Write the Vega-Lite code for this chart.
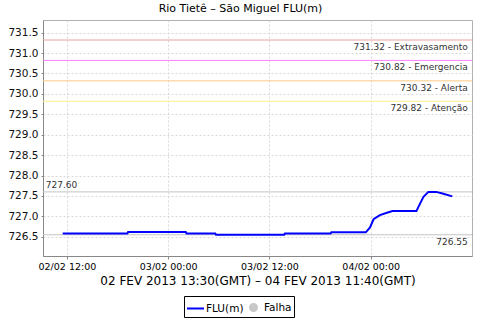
{
  "$schema": "https://vega.github.io/schema/vega-lite/v6.json",
  "width": 429,
  "height": 236,
  "autosize": {"type": "none"},
  "padding": {"left": 43, "top": 20, "right": 8, "bottom": 64},
  "background": "white",
  "title": {"text": "Rio Tietê – São Miguel FLU(m)", "font": "DejaVu Sans", "fontSize": 11, "fontWeight": "normal", "color": "#000000", "anchor": "middle", "dx": -17, "offset": 6},
  "config": {
    "view": {"stroke": "#b0b0b0"},
    "text": {"font": "DejaVu Sans"},
    "axis": {"labelOverlap": false},
    "axisY": {"labelOverlap": false},
    "axisQuantitative": {"labelOverlap": false}
  },
  "datasets": {
    "series": [
      {"t": "2013-02-02T11:30:00Z", "v": 726.58},
      {"t": "2013-02-02T19:10:00Z", "v": 726.58},
      {"t": "2013-02-02T19:15:00Z", "v": 726.62},
      {"t": "2013-02-03T02:05:00Z", "v": 726.62},
      {"t": "2013-02-03T02:10:00Z", "v": 726.58},
      {"t": "2013-02-03T05:35:00Z", "v": 726.58},
      {"t": "2013-02-03T05:40:00Z", "v": 726.55},
      {"t": "2013-02-03T13:45:00Z", "v": 726.55},
      {"t": "2013-02-03T13:50:00Z", "v": 726.58},
      {"t": "2013-02-03T19:15:00Z", "v": 726.58},
      {"t": "2013-02-03T19:20:00Z", "v": 726.61},
      {"t": "2013-02-03T23:25:00Z", "v": 726.61},
      {"t": "2013-02-03T23:55:00Z", "v": 726.73},
      {"t": "2013-02-04T00:20:00Z", "v": 726.93},
      {"t": "2013-02-04T01:05:00Z", "v": 727.03},
      {"t": "2013-02-04T01:55:00Z", "v": 727.09},
      {"t": "2013-02-04T02:35:00Z", "v": 727.13},
      {"t": "2013-02-04T05:25:00Z", "v": 727.13},
      {"t": "2013-02-04T05:40:00Z", "v": 727.24},
      {"t": "2013-02-04T06:15:00Z", "v": 727.48},
      {"t": "2013-02-04T06:50:00Z", "v": 727.6},
      {"t": "2013-02-04T07:45:00Z", "v": 727.6},
      {"t": "2013-02-04T08:30:00Z", "v": 727.56},
      {"t": "2013-02-04T09:40:00Z", "v": 727.49}
    ],
    "lines": [
      {"value": 731.32, "kind": "Extravasamento", "label": "731.32 - Extravasamento"},
      {"value": 730.82, "kind": "Emergencia", "label": "730.82 - Emergencia"},
      {"value": 730.32, "kind": "Alerta", "label": "730.32 - Alerta"},
      {"value": 729.82, "kind": "Atenção", "label": "729.82 - Atenção"},
      {"value": 727.6, "kind": "max", "label": "727.60"},
      {"value": 726.55, "kind": "min", "label": "726.55"}
    ]
  },
  "encoding": {
    "y": {"type": "quantitative",
      "scale": {"domain": [726.03, 731.81], "zero": false, "nice": false},
      "axis": {
        "title": null,
        "tickCount": 12,
        "format": ".1f", "labelOverlap": false,
        "labelFont": "DejaVu Sans", "labelFontSize": 10.5, "labelColor": "#111111",
        "labelPadding": 3, "tickSize": 2, "tickColor": "#888888", "domainColor": "#888888",
        "grid": true, "gridDash": [2, 2], "gridColor": "#d8d8d8"
      }}
  },
  "layer": [
    {
      "data": {"name": "lines"},
      "mark": {"type": "rule", "strokeWidth": 1},
      "encoding": {
        "y": {"field": "value", "type": "quantitative"},
        "stroke": {"field": "kind", "type": "nominal", "legend": null,
          "scale": {"domain": ["Extravasamento", "Emergencia", "Alerta", "Atenção", "max", "min"],
                    "range": ["#f2a0a0", "#ff80ff", "#ffc880", "#fff08a", "#c4c4c4", "#c4c4c4"]}}
      }
    },
    {
      "data": {"name": "lines"},
      "transform": [{"filter": "datum.kind !== 'max'"}],
      "mark": {"type": "text", "align": "right", "baseline": "top", "dy": 3, "fontSize": 9, "color": "#333333"},
      "encoding": {
        "x": {"datum": {"year": 2013, "month": 2, "date": 4, "hours": 11, "minutes": 30, "utc": true}, "type": "temporal"},
        "y": {"field": "value", "type": "quantitative"},
        "text": {"field": "label"}
      }
    },
    {
      "data": {"name": "lines"},
      "transform": [{"filter": "datum.kind === 'max'"}],
      "mark": {"type": "text", "align": "left", "baseline": "alphabetic", "dy": -4, "fontSize": 9, "color": "#333333"},
      "encoding": {
        "x": {"datum": {"year": 2013, "month": 2, "date": 2, "hours": 9, "minutes": 30, "utc": true}, "type": "temporal"},
        "y": {"field": "value", "type": "quantitative"},
        "text": {"field": "label"}
      }
    },
    {
      "data": {"name": "series"},
      "mark": {"type": "line", "strokeWidth": 2},
      "encoding": {
        "x": {
          "field": "t", "type": "temporal",
          "scale": {"type": "utc", "domain": [
            {"year": 2013, "month": 2, "date": 2, "hours": 9, "minutes": 10, "utc": true},
            {"year": 2013, "month": 2, "date": 4, "hours": 12, "minutes": 0, "utc": true}]},
          "axis": {
            "title": "02 FEV 2013 13:30(GMT) – 04 FEV 2013 11:40(GMT)",
            "values": [
              {"year": 2013, "month": 2, "date": 2, "hours": 12, "utc": true},
              {"year": 2013, "month": 2, "date": 3, "hours": 0, "utc": true},
              {"year": 2013, "month": 2, "date": 3, "hours": 12, "utc": true},
              {"year": 2013, "month": 2, "date": 4, "hours": 0, "utc": true}],
            "format": "%d/%m %H:%M",
            "labelFont": "DejaVu Sans", "labelFontSize": 9.5, "labelColor": "#000000",
            "labelPadding": 2, "labelFlush": false, "labelOverlap": false,
            "tickSize": 3, "tickColor": "#888888", "domainColor": "#888888",
            "grid": true, "gridDash": [2, 2], "gridColor": "#d8d8d8",
            "titleFont": "DejaVu Sans", "titleFontSize": 12, "titleFontWeight": "normal",
            "titleColor": "#000000", "titlePadding": 5
          }
        },
        "y": {"field": "v", "type": "quantitative"},
        "color": {
          "datum": "FLU(m)", "type": "nominal",
          "scale": {"domain": ["FLU(m)", "Falha"], "range": ["#0000ff", "#c8c8c8"]},
          "legend": {
            "orient": "none", "legendX": 141, "legendY": 276, "direction": "horizontal",
            "title": null, "strokeColor": "#000000", "fillColor": "#ffffff", "padding": 2, "cornerRadius": 0,
            "labelFont": "DejaVu Sans", "labelFontSize": 10.5, "labelColor": "#000000",
            "symbolType": "stroke", "symbolSize": 200, "symbolStrokeWidth": 2,
            "labelOffset": 1, "columnPadding": 0,
            "encode": {
              "symbols": {
                "update": {
                  "shape": {"signal": "datum.value === 'Falha' ? 'circle' : 'stroke'"},
                  "size": {"signal": "datum.value === 'Falha' ? 49 : 289"},
                  "fill": {"signal": "datum.value === 'Falha' ? '#c8c8c8' : 'transparent'"},
                  "stroke": {"signal": "datum.value === 'Falha' ? 'transparent' : '#0000ff'"},
                  "strokeWidth": {"value": 2}
                }
              }
            }
          }
        }
      }
    }
  ]
}
